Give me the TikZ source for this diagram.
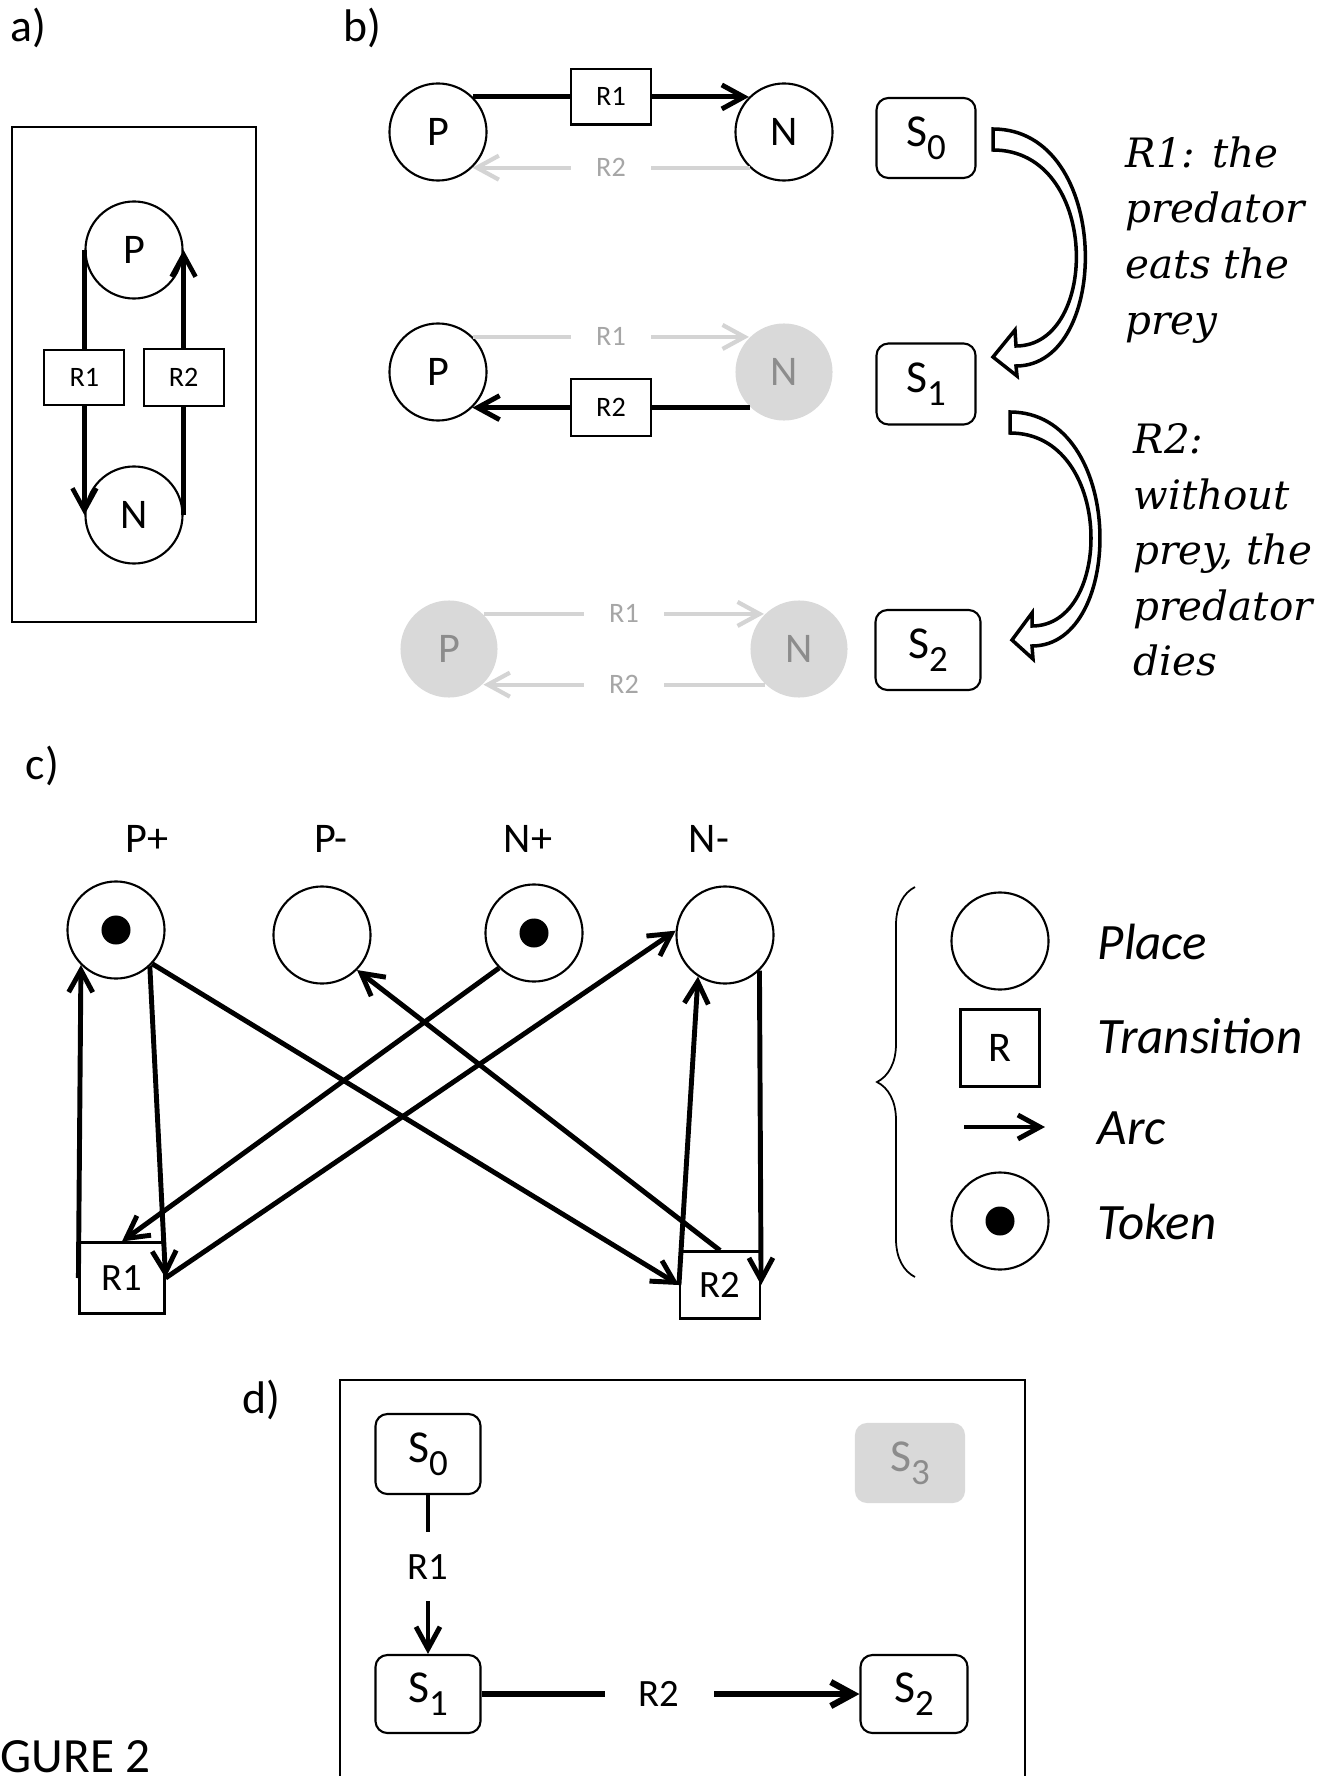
\documentclass[tikz,border=0pt]{standalone}
\usepackage{fontspec}
\setmainfont{Carlito}
\newfontfamily\notefont{DejaVu Serif}
\usetikzlibrary{arrows.meta, decorations.pathreplacing}
\definecolor{fadefill}{HTML}{D9D9D9}
\definecolor{fadetext}{HTML}{8C8C8C}
\definecolor{fadelabel}{HTML}{A6A6A6}
\definecolor{fadeline}{HTML}{D4D4D4}
\newcommand{\statesub}[1]{\raisebox{-3.7pt}{\fontsize{10.5}{11}\selectfont #1}}

\begin{document}
\begin{tikzpicture}[>={Straight Barb[length=2.2mm,width=2.4mm]}, x=0.01cm, y=-0.01cm]
\tikzstyle{place node}=[draw, circle, line width=0.6pt, minimum size=9.7mm, inner sep=0pt, font=\fontsize{12}{14}\selectfont]
\tikzstyle{gray node}=[place node, draw=none, fill=fadefill, text=fadetext]
\tikzstyle{token}=[circle, fill=black, minimum size=2.9mm, inner sep=0pt]
\tikzstyle{trans node}=[draw, rectangle, fill=white, line width=0.6pt, minimum width=8mm, minimum height=5.5mm, inner sep=0pt, font=\fontsize{8}{10}\selectfont]
\tikzstyle{gray label}=[trans node, draw=none, text=fadelabel]
\tikzstyle{state node}=[draw, rectangle, rounded corners=1.2mm, line width=0.6pt, minimum width=9.9mm, minimum height=8mm, inner sep=0pt, font=\fontsize{13}{15}\selectfont]
\tikzstyle{black arc}=[->, line width=1.4pt]
\tikzstyle{gray arc}=[->, line width=1.2pt, draw=fadeline]
\tikzstyle{hollow arrow}=[draw, line width=1pt, fill=white, line join=miter]
\tikzstyle{note text}=[anchor=north west, inner sep=0pt, align=left, font=\notefont\itshape\fontsize{11.5}{15.8}\selectfont]
\tikzstyle{legend text}=[anchor=west, inner sep=0pt, font=\itshape\fontsize{14.5}{17}\selectfont]
\tikzstyle{panel label}=[anchor=base west, inner sep=0pt, font=\fontsize{13}{15}\selectfont]

\useasboundingbox (0,0) rectangle (1329,1776);

% a) the net
\node[panel label] (labela) at (10,42) {a)};
\draw[line width=0.6pt] (12,127) rectangle (256,622);
\node[place node] (Pa) at (134,250) {P};
\node[place node] (Na) at (134,515) {N};
\draw[black arc, line width=1.3pt] (Pa.west) -- node[trans node, pos=0.48] (R1a) {R1} (Na.west);
\draw[black arc, line width=1.3pt] (Na.east) -- node[trans node, pos=0.52, minimum height=5.7mm] (R2a) {R2} (Pa.east);

% b) states
\node[panel label] (labelb) at (343,42) {b)};
\node[place node] (P1) at (438,132) {P};
\node[place node] (N1) at (784,132) {N};
\node[state node] (S0) at (926,138) {S\statesub{0}};
\draw[black arc] (P1.45) -- node[trans node] (R1s0) {R1} (N1.135);
\draw[gray arc] (N1.-134) -- node[gray label] (R2s0) {R2} (P1.-46);

\node[place node] (P2) at (438,372) {P};
\node[gray node] (N2) at (784,372) {N};
\node[state node, minimum height=8.1mm] (S1) at (926,384) {S\statesub{1}};
\draw[gray arc] (P2.45) -- node[gray label] (R1s1) {R1} (N2.135);
\draw[black arc] (N2.-134) -- node[trans node, minimum height=5.7mm] (R2s1) {R2} (P2.-46);

\node[gray node] (P3) at (449,649) {P};
\node[gray node] (N3) at (799,649) {N};
\node[state node, minimum width=10.5mm] (S2) at (928,650) {S\statesub{2}};
\draw[gray arc] (P3.45) -- node[gray label] (R1s2) {R1} (N3.135);
\draw[gray arc] (N3.-134) -- node[gray label] (R2s2) {R2} (P3.-46);

% b) transitions between states
\draw[hollow arrow] (993,129) .. controls (1112,129) and (1112,366) .. (1016,366)
  -- (1017,376) -- (993,357) -- (1015,330) -- (1016,346)
  .. controls (1100,346) and (1100,150) .. (993,150) -- cycle;
\draw[hollow arrow] (1010,412) .. controls (1126,412) and (1126,646) .. (1032,646)
  -- (1033,659) -- (1012,640) -- (1032,613) -- (1032,626)
  .. controls (1114,626) and (1114,433) .. (1010,433) -- cycle;
\node[note text] (note1) at (1125,136) {R1: the\\predator\\eats the\\prey};
\node[note text] (note2) at (1133,423) {R2:\\without\\prey, the\\predator\\dies};

% c) Petri net
\node[panel label] (labelc) at (25,779) {c)};
\node[font=\fontsize{12}{14}\selectfont] (lPplus) at (147,839) {P+};
\node[font=\fontsize{12}{14}\selectfont] (lPminus) at (331,839) {P-};
\node[font=\fontsize{12}{14}\selectfont] (lNplus) at (528,839) {N+};
\node[font=\fontsize{12}{14}\selectfont] (lNminus) at (709,839) {N-};
\node[place node] (Pplus) at (116,930) {};
\node[place node] (Pminus) at (322,935) {};
\node[place node] (Nplus) at (534,933) {};
\node[place node] (Nminus) at (725,935) {};
\node[token] (tPplus) at (Pplus) {};
\node[token] (tNplus) at (Nplus) {};
\node[trans node, minimum width=8.5mm, minimum height=7.1mm, font=\fontsize{11}{13}\selectfont] (R1t) at (122,1278) {R1};
\node[trans node, minimum width=8mm, minimum height=6.7mm, font=\fontsize{11}{13}\selectfont] (R2t) at (720,1285) {R2};
\draw[black arc] (R1t.west) -- (Pplus.225);
\draw[black arc] (Pplus.-47) -- (R1t.east);
\draw[black arc] (Pplus.-43) -- (R2t.west);
\draw[black arc] (Nplus.225) -- (R1t.north);
\draw[black arc] (R1t.east) -- (Nminus.175);
\draw[black arc] (R2t.north) -- (Pminus.-45);
\draw[black arc] (R2t.west) -- (Nminus.237);
\draw[black arc] (Nminus.-46) -- (R2t.east);

% c) legend
\draw[decorate, decoration={brace, amplitude=3.8mm}, line width=0.5pt] (915,1277) -- (915,887);
\node[place node] (legPlace) at (1000,941) {};
\node[legend text] (txtPlace) at (1097,942) {Place};
\node[trans node, minimum width=7.9mm, minimum height=7.7mm, font=\fontsize{12}{14}\selectfont] (legTrans) at (1000,1048) {R};
\node[legend text] (txtTrans) at (1097,1036) {Transition};
\coordinate (arcA) at (964,1127);
\coordinate (arcB) at (1045,1127);
\draw[black arc] (arcA) -- (arcB);
\node[legend text] (txtArc) at (1097,1128) {Arc};
\node[place node] (legToken) at (1000,1221) {};
\node[token] (legDot) at (legToken) {};
\node[legend text] (txtToken) at (1097,1222) {Token};

% d) state graph
\node[panel label] (labeld) at (242,1413) {d)};
\draw[line width=0.6pt] (340,1776) -- (340,1380) -- (1025,1380) -- (1025,1776);
\node[state node, minimum width=10.5mm] (S0d) at (428,1454) {S\statesub{0}};
\node[state node, draw=none, fill=fadefill, text=fadetext, minimum width=11mm] (S3d) at (910,1463) {S\statesub{3}};
\node[state node, minimum width=10.5mm, minimum height=7.8mm] (S1d) at (428,1694) {S\statesub{1}};
\node[state node, minimum width=10.7mm, minimum height=7.8mm] (S2d) at (914,1694) {S\statesub{2}};
\draw[->, line width=1.4pt] (S0d) -- node[pos=0.45, fill=white, inner sep=0pt, minimum height=6.9mm, font=\fontsize{11}{13}\selectfont] (R1d) {R1} (S1d);
\draw[->, line width=1.8pt] (S1d) -- node[pos=0.47, fill=white, inner sep=0pt, minimum width=10.9mm, font=\fontsize{11}{13}\selectfont] (R2d) {R2} (S2d);

\node[anchor=base west, inner sep=0pt, font=\fontsize{14}{16}\selectfont] (figlabel) at (0,1772) {GURE 2};
\end{tikzpicture}
\end{document}
